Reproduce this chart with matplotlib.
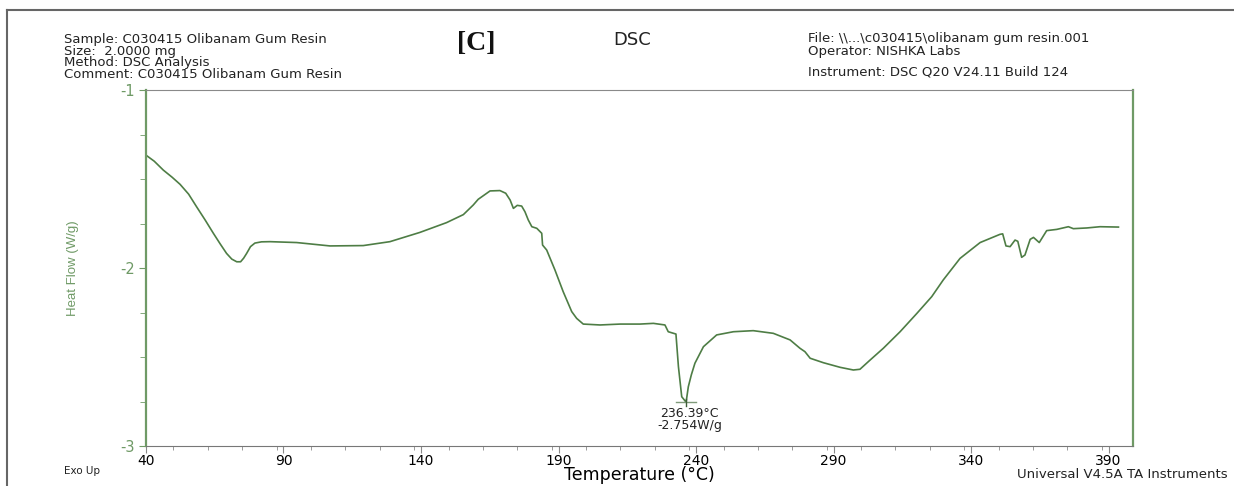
import matplotlib.pyplot as plt
from matplotlib.ticker import MultipleLocator
from matplotlib.lines import Line2D

plt.rcParams['axes.unicode_minus'] = False

# DSC trace, olibanum gum resin
temp = [40.0, 43.0, 46.3, 49.5, 52.4, 55.5, 58.4, 61.5, 64.5, 67.0, 69.3,
        71.2, 73.0, 74.4, 75.5, 76.6, 78.0, 79.6, 82.0, 85.1, 94.8, 106.9,
        119.0, 128.7, 139.6, 149.3, 155.4, 159.0, 160.8, 163.0, 165.1, 168.7,
        170.8, 172.4, 173.6, 175.0, 176.6, 177.8, 179.0, 180.3, 182.1, 183.9,
        184.2, 185.7, 188.7, 191.7, 194.8, 196.6, 199.0, 205.1, 212.4, 219.6,
        224.5, 228.7, 229.9, 232.7, 233.6, 234.8, 236.39, 237.2, 238.3, 239.6,
        242.7, 247.5, 253.6, 260.8, 268.1, 274.2, 277.8, 279.6, 281.5, 286.3,
        292.4, 297.2, 299.6, 303.3, 308.1, 314.2, 320.3, 325.7, 329.9, 336.0,
        343.3, 350.5, 351.5, 352.7, 354.2, 356.0, 357.0, 358.4, 359.6, 361.5,
        362.7, 364.8, 367.5, 371.2, 375.4, 377.2, 382.1, 386.9, 393.6]
heat_flow = [-1.366, -1.40, -1.45, -1.49, -1.53, -1.585, -1.656, -1.73, -1.805,
             -1.865, -1.918, -1.950, -1.965, -1.965, -1.945, -1.918, -1.88,
             -1.86, -1.853, -1.852, -1.857, -1.876, -1.874, -1.852, -1.80,
             -1.745, -1.70, -1.646, -1.614, -1.59, -1.567, -1.565, -1.58,
             -1.618, -1.665, -1.648, -1.652, -1.684, -1.73, -1.768, -1.777,
             -1.805, -1.871, -1.899, -2.011, -2.133, -2.245, -2.283, -2.315,
             -2.32, -2.315, -2.315, -2.311, -2.32, -2.358, -2.371, -2.554,
             -2.723, -2.754, -2.667, -2.60, -2.535, -2.442, -2.376, -2.358,
             -2.352, -2.367, -2.404, -2.451, -2.47, -2.507, -2.532, -2.558,
             -2.573, -2.569, -2.517, -2.451, -2.358, -2.255, -2.161, -2.067,
             -1.946, -1.857, -1.811, -1.808, -1.876, -1.88, -1.843, -1.85,
             -1.94, -1.927, -1.839, -1.828, -1.857, -1.79, -1.783, -1.768,
             -1.779, -1.775, -1.768, -1.77]

peak_t = 236.39
peak_hf = -2.754

xticks = [40, 90, 140, 190, 240, 290, 340, 390]
yticks = [-3, -2, -1]

sample_lines = ['Sample: C030415 Olibanam Gum Resin', 'Size:  2.0000 mg',
                'Method: DSC Analysis', 'Comment: C030415 Olibanam Gum Resin']
file_lines = ['File: \\\\...\\c030415\\olibanam gum resin.001',
              'Operator: NISHKA Labs']
instrument = 'Instrument: DSC Q20 V24.11 Build 124'

green = '#4e7d45'
axis_green = '#6f9a66'
grey = '#8a8a8a'
ink = '#222222'

fig = plt.figure(figsize=(12.34, 4.86), dpi=100)
ax = fig.add_axes([0.1183, 0.0823, 0.8001, 0.7325])

ax.plot(temp, heat_flow, color=green, lw=1.2)

# peak marker and label
ax.plot([peak_t - 3.5, peak_t + 3.5], [peak_hf, peak_hf], color='#7f9a7a', lw=1.0)
ax.plot([peak_t, peak_t], [peak_hf - 0.02, peak_hf + 0.02], color='#3d5d37', lw=1.0)
ax.text(peak_t + 1.2, peak_hf - 0.025, '236.39°C\n-2.754W/g', ha='center', va='top',
        fontsize=9, color=ink, linespacing=0.95)

ax.set_xlim(40, 399)
ax.set_ylim(-3, -1)
ax.set_xticks(xticks)
ax.set_yticks(yticks)
ax.xaxis.set_minor_locator(MultipleLocator(12.5))
ax.yaxis.set_minor_locator(MultipleLocator(0.25))
ax.tick_params(axis='x', which='major', length=5, color=grey, labelsize=10, pad=1)
ax.tick_params(axis='x', which='minor', length=3, color=grey)
ax.tick_params(axis='y', which='major', length=5, color=axis_green, labelsize=10.5,
               labelcolor=axis_green, pad=3)
ax.tick_params(axis='y', which='minor', length=4, color=axis_green)

ax.spines['left'].set_color(axis_green)
ax.spines['right'].set_color(axis_green)
ax.spines['left'].set_linewidth(1.6)
ax.spines['right'].set_linewidth(1.6)
ax.spines['top'].set_color(grey)
ax.spines['bottom'].set_color('#777777')

ax.set_ylabel('Heat Flow (W/g)', color=axis_green, fontsize=9.5,
              family=['Liberation Sans Narrow', 'Liberation Sans'])
ax.yaxis.set_label_coords(-0.068, 0.5)
ax.set_xlabel('Temperature (°C)', fontsize=12.5)
ax.xaxis.set_label_coords(0.5, -0.056)

# header block
fig.text(64 / 1234, 1 - 33 / 486, '\n'.join(sample_lines), fontsize=9.5, color=ink,
         va='top', linespacing=0.87)
fig.text(476 / 1234, 1 - 43 / 486, '[C]', fontsize=20, fontweight='bold',
         family='Liberation Serif', ha='center', va='center', color='#111111')
fig.text(632 / 1234, 1 - 40 / 486, 'DSC', fontsize=13, ha='center', va='center',
         color=ink)
fig.text(808 / 1234, 1 - 32 / 486, '\n'.join(file_lines), fontsize=9.5, color=ink,
         va='top', linespacing=0.95)
fig.text(808 / 1234, 1 - 72 / 486, instrument, fontsize=9.5, color=ink, va='center')

fig.text(64 / 1234, 1 - 471 / 486, 'Exo Up', fontsize=7.5, va='center', color=ink)
fig.text(1017 / 1234, 1 - 474 / 486, 'Universal V4.5A TA Instruments', fontsize=9.5,
         va='center', color=ink)

# page frame
fig.add_artist(Line2D([7 / 1234, 1], [1 - 10 / 486, 1 - 10 / 486], color='#666666',
                      lw=1.5, transform=fig.transFigure))
fig.add_artist(Line2D([7 / 1234, 7 / 1234], [0, 1 - 10 / 486], color='#666666',
                      lw=1.5, transform=fig.transFigure))

fig.savefig('out.png', dpi=100)
